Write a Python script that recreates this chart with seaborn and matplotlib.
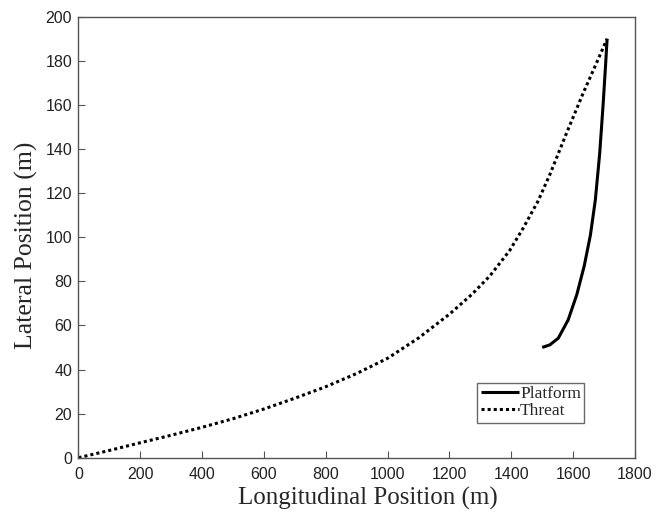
import numpy as np
import pandas as pd
import matplotlib
matplotlib.use("Agg")
import matplotlib.pyplot as plt
import seaborn as sns

# Data
threat_x = [0, 100, 200, 300, 400, 500, 600, 700, 800, 900, 1000, 1100, 1200, 1272, 1331, 1395,
            1438, 1487, 1525, 1579, 1633, 1676, 1710]
threat_y = [0, 3.3, 6.8, 10.2, 13.8, 17.7, 22.1, 27.0, 32.2, 38.2, 45.1, 54.3, 65.1, 74.0, 82.5, 94.0,
            104.0, 116.5, 128.5, 147.3, 165.5, 179.1, 190]
platform_x = [1500, 1525, 1552, 1584, 1612, 1636, 1656, 1672, 1686, 1697, 1705, 1710]
platform_y = [50, 51.2, 54.2, 62.5, 74.0, 87.0, 101.0, 117.0, 138.0, 160.0, 178.0, 190]

x_ticks = [0, 200, 400, 600, 800, 1000, 1200, 1400, 1600, 1800]
y_ticks = [0, 20, 40, 60, 80, 100, 120, 140, 160, 180, 200]

df = pd.concat([
    pd.DataFrame({"x": platform_x, "y": platform_y, "series": "Platform"}),
    pd.DataFrame({"x": threat_x, "y": threat_y, "series": "Threat"}),
])

sns.set_style("ticks")
plt.rcParams["font.family"] = ["Liberation Sans", "DejaVu Sans"]

fig = plt.figure(figsize=(6.68, 5.14), dpi=100)
ax = fig.add_axes([0.1175, 0.1095, 0.833, 0.858])

sns.lineplot(data=df, x="x", y="y", hue="series", style="series",
             palette={"Platform": "black", "Threat": "black"},
             dashes={"Platform": "", "Threat": (1, 1)},
             sort=False, estimator=None, ax=ax, linewidth=2.2)
for ln in ax.lines:
    ln.set_solid_capstyle("butt")
    ln.set_solid_joinstyle("round")

ax.set_xlim(0, 1800)
ax.set_ylim(0, 200)
ax.set_xticks(x_ticks)
ax.set_yticks(y_ticks)
ax.tick_params(direction="in", length=5, width=0.8, colors="#555555",
               labelcolor="#222222", labelsize=11.5, top=False, right=False)
ax.tick_params(axis="x", pad=7)
ax.tick_params(axis="y", pad=4.5)
for s in ax.spines.values():
    s.set_visible(True)
    s.set_color("#555555")
    s.set_linewidth(1.0)

serif = ["Liberation Serif", "DejaVu Serif"]
ax.set_xlabel("Longitudinal Position (m)", family=serif, fontsize=18)
ax.set_ylabel("Lateral Position (m)", family=serif, fontsize=18.5)
ax.xaxis.set_label_coords(0.52, -0.066)
ax.yaxis.set_label_coords(-0.073, 0.482)

leg = ax.legend(loc="lower left", bbox_to_anchor=(0.717, 0.079), frameon=True,
                fancybox=False, edgecolor="#444444", prop={"family": serif, "size": 12.5},
                handlelength=2.2, handletextpad=0.05, borderpad=0.2, labelspacing=0.05,
                borderaxespad=0)
leg.get_frame().set_linewidth(1.0)

fig.savefig("out.png", dpi=100)
